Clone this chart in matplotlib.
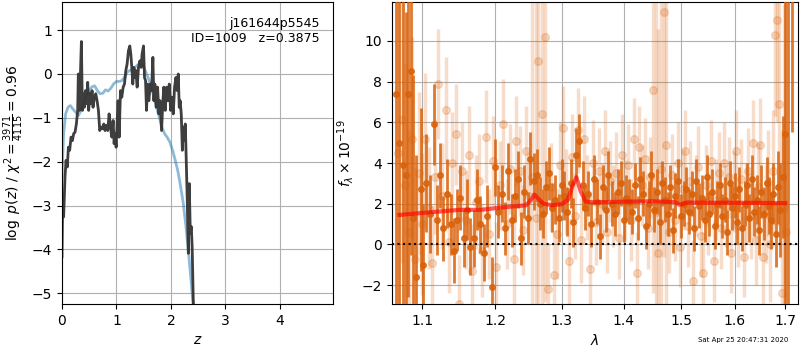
#!/usr/bin/env python3
# -*- coding: utf-8 -*-
import numpy as np
import matplotlib
matplotlib.use('Agg')
import matplotlib.pyplot as plt
from matplotlib.ticker import NullLocator

# p(z) curves
z_pz = [0.0, 0.012, 0.03, 0.055, 0.074, 0.098, 0.117, 0.141, 0.166, 0.19, 0.215, 0.239, 0.264, 0.288,
        0.30, 0.32, 0.337, 0.356, 0.374, 0.393, 0.41, 0.43, 0.448, 0.472, 0.49, 0.51, 0.528, 0.552,
        0.57, 0.595, 0.62, 0.644, 0.669, 0.693, 0.718, 0.742, 0.767, 0.79, 0.816, 0.84, 0.865, 0.89,
        0.914, 0.939, 0.957, 0.975, 0.994, 1.012, 1.03, 1.05, 1.074, 1.098, 1.123, 1.147, 1.172, 1.196,
        1.22, 1.245, 1.264, 1.282, 1.30, 1.32, 1.337, 1.356, 1.38, 1.405, 1.43, 1.454, 1.47, 1.497,
        1.515, 1.534, 1.552, 1.57, 1.595, 1.62, 1.644, 1.669, 1.687, 1.705, 1.73, 1.755, 1.779, 1.80,
        1.828, 1.853, 1.87, 1.896, 1.92, 1.945, 1.97, 1.994, 2.018, 2.043, 2.067, 2.092, 2.117, 2.135,
        2.153, 2.17, 2.19, 2.21, 2.227, 2.245, 2.264, 2.28, 2.30, 2.32, 2.337, 2.356, 2.374, 2.39,
        2.41, 2.43]
logp = [-4.17, -2.88, -3.26, -2.35, -1.97, -2.12, -1.67, -1.74, -1.44, -1.52, -1.36, -1.33, -1.14, -0.83,
        0.0, -0.83, -0.08, 0.74, -0.83, -0.45, -0.76, -0.38, -0.68, -0.19, -0.83, -0.45, -0.68, -0.38,
        -0.76, -0.53, -0.45, -0.61, -0.83, -1.29, -1.21, -1.25, -1.14, -1.29, -1.17, -1.29, -0.91, -1.21,
        -1.44, -1.06, -1.59, -1.36, -1.67, -1.14, -0.61, -1.44, -0.38, -0.53, -0.30, -0.23, 0.08, 0.23,
        0.53, 0.64, 0.45, 0.15, -0.23, 0.15, -0.08, 0.08, -0.30, 0.15, 0.30, 0.15, 0.45, 0.64,
        -0.08, -0.15, -0.83, -0.23, -0.61, -0.23, -0.38, 0.38, -0.61, -0.23, -0.76, -0.30, -0.91, -0.61,
        -1.29, -0.61, -0.30, -0.83, -0.30, -0.61, -0.23, -0.83, -0.53, -0.91, -0.30, -0.08, -0.38, 0.0,
        -0.76, -0.61, -0.91, -1.74, -1.21, -1.52, -1.14, -1.89, -2.88, -4.09, -2.5, -3.64, -3.48, -3.94,
        -5.15, -5.76]

z_smooth = [0.0, 0.03, 0.067, 0.11, 0.153, 0.2, 0.25, 0.3, 0.35, 0.4, 0.448, 0.5, 0.552, 0.6, 0.65,
            0.7, 0.75, 0.8, 0.847, 0.9, 0.945, 1.0, 1.05, 1.1, 1.147, 1.196, 1.245, 1.294, 1.34, 1.39,
            1.44, 1.49, 1.54, 1.59, 1.64, 1.69, 1.736, 1.785, 1.834, 1.883, 1.93, 1.98, 2.03, 2.08,
            2.13, 2.18, 2.227, 2.276, 2.325, 2.374, 2.42]
logp_smooth = [-2.35, -1.36, -0.91, -0.76, -0.72, -0.8, -0.87, -0.95, -0.83, -0.64, -0.49, -0.38, -0.29,
               -0.27, -0.38, -0.45, -0.44, -0.36, -0.39, -0.32, -0.23, -0.17, -0.17, -0.15, -0.08, 0.04,
               0.08, 0.11, 0.15, 0.21, 0.23, 0.19, 0.04, -0.11, -0.32, -0.53, -0.76, -0.98, -1.21, -1.36,
               -1.44, -1.55, -1.74, -1.97, -2.23, -2.58, -2.95, -3.48, -4.09, -4.77, -5.45]

# binned spectrum (dark points), fluxes x 1e-19
wave_dark = [1.066, 1.070, 1.074, 1.078, 1.081, 1.085, 1.088, 1.091, 1.098, 1.101,
             1.105, 1.110, 1.115, 1.119, 1.124, 1.128, 1.133, 1.138, 1.142, 1.147,
             1.151, 1.156, 1.161, 1.165, 1.170, 1.175, 1.179, 1.184, 1.189, 1.195,
             1.200, 1.205, 1.210, 1.214, 1.219, 1.224, 1.229, 1.233, 1.238, 1.243,
             1.248, 1.252, 1.257, 1.262, 1.266, 1.271, 1.276, 1.281, 1.285, 1.290,
             1.295, 1.300, 1.304, 1.309, 1.314, 1.318, 1.323, 1.328, 1.333, 1.337,
             1.342, 1.347, 1.352, 1.356, 1.361, 1.366, 1.371, 1.375, 1.380, 1.385,
             1.390, 1.395, 1.400, 1.405, 1.409, 1.414, 1.419, 1.424, 1.428, 1.433,
             1.438, 1.443, 1.447, 1.452, 1.457, 1.462, 1.466, 1.471, 1.476, 1.481,
             1.486, 1.490, 1.495, 1.500, 1.505, 1.509, 1.514, 1.519, 1.524, 1.528,
             1.533, 1.538, 1.543, 1.547, 1.552, 1.557, 1.562, 1.566, 1.571, 1.576,
             1.581, 1.586, 1.590, 1.595, 1.600, 1.605, 1.609, 1.614, 1.619, 1.624,
             1.628, 1.633, 1.638, 1.643, 1.648, 1.652, 1.657, 1.662, 1.667, 1.671,
             1.676, 1.681, 1.686, 1.690, 1.695, 1.700, 1.706, 1.713]
flux_dark = [7.4, 5.0, 3.9, 3.4, 7.4, 8.5, 1.3, -1.6, 2.7, -1.0,
             3.0, 1.5, 5.9, 1.2, 3.4, 0.8, 2.5, 1.0, -0.3, 1.2,
             2.3, 0.3, 1.7, -0.1, 0.3, 2.2, 1.0, -0.4, 1.4, -2.1,
             3.8, 1.6, 2.5, 0.8, 3.6, 1.2, 2.4, 3.2, 0.3, 2.6,
             1.3, 4.2, 3.1, 3.4, 2.0, 1.5, 2.8, 3.5, 1.8, 2.2,
             1.3, 2.9, 2.4, 1.6, 3.0, 1.1, 4.4, 5.1, 2.9, 1.8,
             2.5, 1.0, 3.2, 2.1, 0.4, 2.8, 1.7, 3.4, 2.0, 1.5,
             2.6, 3.0, 1.2, 2.3, 2.1, 1.6, 2.9, 1.3, 3.2, 2.5,
             0.9, 2.0, 3.4, 1.7, 2.6, 1.1, 3.0, 2.2, 1.5, 2.8,
             0.7, 2.4, 3.1, 1.4, 2.0, 2.7, 1.6, 2.5, 0.8, 3.1,
             1.9, 2.3, 1.2, 3.3, 1.5, 2.6, 0.9, 2.0, 2.9, 1.4,
             2.2, 0.6, 3.0, 1.8, 2.4, 1.1, 2.7, 0.8, 2.0, 2.9,
             1.3, 3.2, 1.6, 2.2, 0.7, 2.6, 1.5, 3.0, 1.9, 1.2,
             2.5, 0.5, 2.8, 1.7, 3.3, 5.4, 14.0, 15.0]
err_dark = [14.0, 11.0, 9.0, 8.0, 10.0, 9.0, 7.0, 6.0, 4.0, 3.0,
            2.4, 1.9, 2.0, 1.7, 1.6, 1.6, 1.7, 1.5, 1.6, 1.5,
            1.6, 1.4, 1.5, 1.4, 1.4, 1.5, 1.4, 1.4, 1.5, 1.5,
            1.4, 1.3, 1.4, 1.3, 1.4, 1.3, 1.3, 1.4, 1.3, 1.3,
            1.3, 1.3, 1.4, 1.3, 1.3, 1.2, 1.3, 1.3, 1.2, 1.2,
            1.2, 1.3, 1.2, 1.2, 1.2, 1.2, 1.3, 1.3, 1.2, 1.1,
            1.1, 1.1, 1.2, 1.1, 1.1, 1.1, 1.1, 1.2, 1.1, 1.1,
            1.1, 1.1, 1.1, 1.1, 1.1, 1.1, 1.1, 1.1, 1.1, 1.1,
            1.1, 1.1, 1.2, 1.1, 1.1, 1.1, 1.1, 1.1, 1.1, 1.1,
            1.1, 1.1, 1.1, 1.1, 1.1, 1.1, 1.1, 1.1, 1.1, 1.1,
            1.1, 1.1, 1.1, 1.1, 1.1, 1.1, 1.1, 1.1, 1.1, 1.1,
            1.1, 1.1, 1.1, 1.1, 1.1, 1.1, 1.1, 1.1, 1.1, 1.1,
            1.2, 1.2, 1.2, 1.2, 1.2, 1.3, 1.3, 1.3, 1.4, 1.4,
            1.5, 1.6, 1.8, 2.3, 3.0, 10.0, 20.0, 9.5]

# unbinned spectrum (light points)
wave_light = [1.068, 1.073, 1.077, 1.082, 1.086, 1.090, 1.095, 1.099,
              1.103, 1.108, 1.112, 1.117, 1.121, 1.126, 1.131, 1.135, 1.140, 1.145,
              1.149, 1.154, 1.159, 1.163, 1.168, 1.173, 1.177, 1.182, 1.187, 1.192,
              1.197, 1.202, 1.207, 1.212, 1.217, 1.222, 1.227, 1.231, 1.236, 1.241,
              1.246, 1.250, 1.255, 1.260, 1.264, 1.269, 1.274, 1.279, 1.283, 1.288,
              1.293, 1.298, 1.302, 1.307, 1.312, 1.316, 1.321, 1.326, 1.331, 1.335,
              1.340, 1.345, 1.350, 1.354, 1.359, 1.364, 1.369, 1.373, 1.378, 1.383,
              1.388, 1.393, 1.398, 1.403, 1.407, 1.412, 1.417, 1.422, 1.426, 1.431,
              1.436, 1.441, 1.446, 1.450, 1.455, 1.460, 1.465, 1.469, 1.474, 1.479,
              1.484, 1.489, 1.494, 1.498, 1.503, 1.508, 1.512, 1.517, 1.522, 1.527,
              1.531, 1.536, 1.541, 1.546, 1.550, 1.555, 1.560, 1.565, 1.569, 1.574,
              1.579, 1.584, 1.588, 1.593, 1.598, 1.603, 1.607, 1.612, 1.617, 1.622,
              1.626, 1.631, 1.636, 1.641, 1.645, 1.650, 1.655, 1.660, 1.664, 1.669,
              1.674, 1.679, 1.683, 1.688, 1.693, 1.698, 1.702]
flux_light = [4.5, 6.1, 2.9, 0.6, 5.2, -0.7, 3.5, 1.0,
              5.2, 1.8, -0.9, 3.3, 7.9, 2.4, 6.6, 0.1, 4.0, 5.4, -2.9, 3.6,
              1.2, 4.4, -1.3, 2.1, 3.1, -0.3, 5.3, 0.5, 4.1, -1.1,
              2.9, 5.9, 1.0, 3.7, -0.7, 5.1, 3.6, 0.7, 4.6, 2.4,
              3.3, 1.3, 9.0, 6.4, 10.2, -2.2, 2.8, -1.5, 0.5, 3.9,
              5.7, 2.6, -0.8, 4.3, 1.4, 5.6, 0.2, 5.2, 2.3, -1.2,
              4.0, 1.1, 3.6, 2.0, 4.6, 0.6, 3.1, 1.9, 3.5, 0.3,
              4.4, 2.2, 3.9, 1.2, 5.2, -1.4, 4.8, 2.9, 4.2, 0.8,
              3.3, 7.6, 1.6, -0.4, 3.7, 11.4, 4.9, 0.6, 3.4, 1.2,
              4.0, -0.1, 2.7, 4.6, 0.9, 3.1, -1.8, 2.4, 3.8, 0.4,
              -1.4, 2.9, 1.5, 4.1, -0.8, 2.2, 3.5, 0.8, 4.0, 1.9,
              3.3, -0.4, 2.6, 4.6, 0.9, 3.2, -0.6, 2.0, 3.6, 1.4,
              5.0, 0.2, 2.8, 4.9, -0.6, 1.5, 3.0, 0.0, 3.6, 10.3,
              11.0, 6.9, -2.4, 1.8, 0.6]
err_light = [9.0, 7.0, 6.0, 5.0, 5.0, 4.5, 4.0, 3.5,
             3.2, 3.0, 2.8, 2.8, 2.7, 2.6, 2.6, 2.5, 2.5, 2.5, 2.4, 2.4,
             2.4, 2.4, 2.3, 2.3, 2.3, 2.3, 2.3, 2.2, 2.2, 2.2,
             2.2, 2.2, 2.2, 2.2, 2.2, 2.2, 2.2, 2.2, 2.2, 2.2,
             12.0, 14.0, 12.0, 10.0, 13.0, 2.2, 2.2, 2.2, 2.2, 2.1,
             2.1, 2.1, 2.1, 2.1, 2.1, 2.1, 2.1, 2.1, 2.1, 2.1,
             2.1, 2.1, 2.1, 2.0, 2.0, 2.0, 2.0, 2.0, 2.0, 2.0,
             2.0, 2.0, 2.0, 2.0, 2.0, 2.0, 2.0, 2.0, 2.0, 2.0,
             2.0, 10.0, 12.0, 11.0, 13.0, 12.0, 9.0, 2.0, 2.0, 2.0,
             2.0, 2.0, 2.0, 2.0, 2.0, 2.0, 2.0, 2.0, 2.0, 2.0,
             2.0, 2.0, 2.0, 2.0, 2.0, 2.0, 2.0, 2.0, 2.0, 2.0,
             2.0, 2.0, 2.0, 2.0, 2.0, 2.0, 2.0, 2.0, 2.1, 2.1,
             2.1, 2.2, 2.2, 2.3, 2.3, 2.4, 2.6, 2.8, 3.0, 4.0,
             5.0, 6.0, 8.0, 10.0, 12.0]

# best-fit model
wave_model = [1.07, 1.10, 1.15, 1.18, 1.20, 1.22, 1.245, 1.252, 1.258, 1.264, 1.272, 1.285,
              1.30, 1.31, 1.316, 1.323, 1.330, 1.338, 1.35, 1.40, 1.45, 1.49, 1.497, 1.502,
              1.51, 1.55, 1.60, 1.65, 1.70]
flux_model = [1.45, 1.55, 1.70, 1.70, 1.78, 1.85, 1.92, 2.15, 2.45, 2.25, 2.0, 1.93,
              1.98, 2.2, 2.8, 3.3, 2.6, 2.1, 2.07, 2.1, 2.12, 2.08, 1.95, 1.98,
              2.06, 2.05, 2.05, 2.04, 2.03]

xticks = [1.1, 1.2, 1.3, 1.4, 1.5, 1.6, 1.7]


def main():
    fig = plt.figure(figsize=(8, 3.5), dpi=100)

    # redshift PDF
    ax1 = fig.add_axes([0.0775, 0.131, 0.339, 0.863])
    ax1.plot(z_smooth, logp_smooth, color='#1f77b4', alpha=0.5, lw=2)
    ax1.plot(z_pz, logp, color='0.2', alpha=0.95, lw=2)
    ax1.set_xlim(0, 4.98)
    ax1.set_ylim(-5.25, 1.64)
    ax1.set_xticks([0, 1, 2, 3, 4])
    ax1.set_yticks([-5, -4, -3, -2, -1, 0, 1])
    ax1.grid(True)
    ax1.set_xlabel(r'$z$')
    ax1.set_ylabel(r'$\log\ p(z)$' + ' / ' + r'$\chi^2=\frac{3971}{4115}=0.96$')
    ax1.text(0.95, 0.95, 'j161644p5545\nID=1009   z=0.3875', ha='right', va='top',
             transform=ax1.transAxes, fontsize=9)

    # spectrum
    ax2 = fig.add_axes([0.49, 0.131, 0.5075, 0.863])
    c = '#d9620b'
    ax2.errorbar(wave_light, flux_light, yerr=err_light, marker='o', ms=5.5, linestyle='None',
                 color=c, alpha=0.22, elinewidth=2.5, capsize=0, zorder=2)
    ax2.errorbar(wave_dark, flux_dark, yerr=err_dark, marker='o', ms=4, linestyle='None',
                 color=c, alpha=0.85, elinewidth=2, capsize=0, zorder=3)
    ax2.plot(wave_model, flux_model, color='r', alpha=0.65, lw=3, zorder=4)
    ax2.axhline(0, color='k', linestyle=':', lw=1.5, zorder=5)
    ax2.set_xscale('log')
    ax2.set_xlim(1.0605, 1.726)
    ax2.set_xticks(xticks)
    ax2.set_xticklabels(['%.1f' % t for t in xticks])
    ax2.xaxis.set_minor_locator(NullLocator())
    ax2.set_ylim(-2.93, 11.9)
    ax2.set_yticks([-2, 0, 2, 4, 6, 8, 10])
    ax2.grid(True)
    ax2.set_xlabel(r'$\lambda$')
    ax2.set_ylabel(r'$f_\lambda \times 10^{-19}$')

    fig.text(0.985, 0.02, 'Sat Apr 25 20:47:31 2020', ha='right', va='bottom', fontsize=5)

    fig.savefig('out.png', dpi=100)


if __name__ == "__main__":
    main()
